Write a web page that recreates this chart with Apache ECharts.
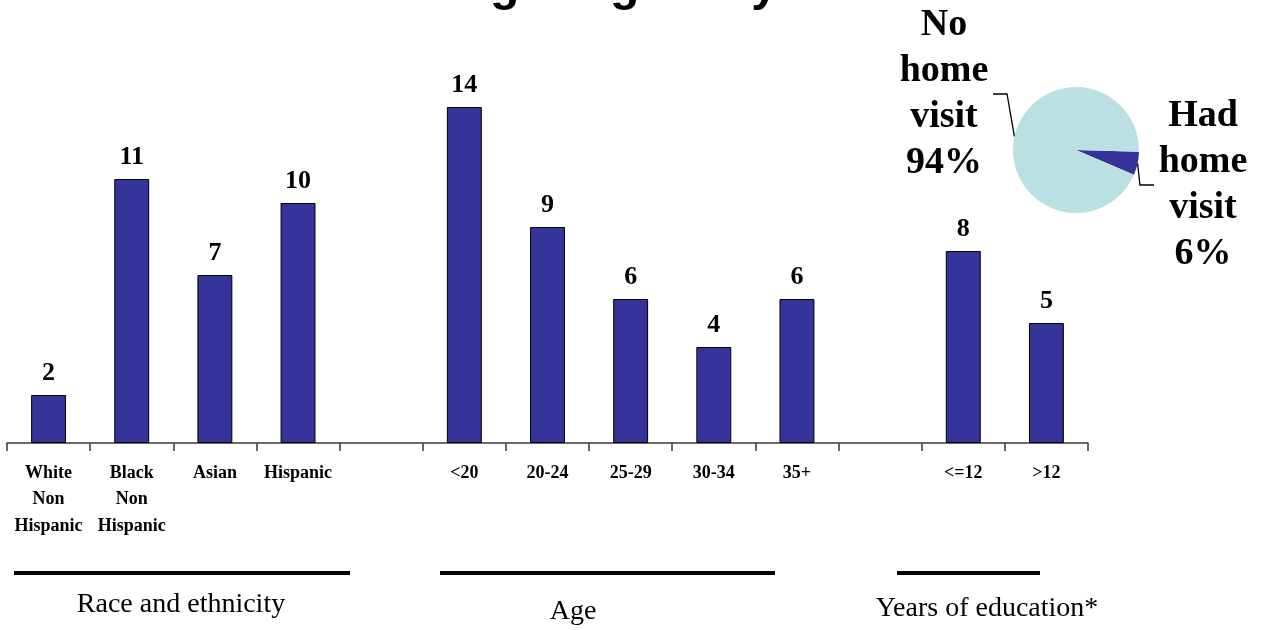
<!DOCTYPE html>
<html>
<head>
<meta charset="utf-8">
<script src="https://cdn.jsdelivr.net/npm/echarts@6/dist/echarts.min.js"></script>
<style>
html,body{margin:0;padding:0;background:#fff;}
#chart{width:1262px;height:630px;}
</style>
</head>
<body>
<div id="chart"></div>
<script>
// ---- data ----
var titleText = 'Home Visits During Pregnancy';
var categories = ['White\nNon\nHispanic', 'Black\nNon\nHispanic', 'Asian', 'Hispanic', '',
                  '<20', '20-24', '25-29', '30-34', '35+', '',
                  '<=12', '>12'];
var values = [2, 11, 7, 10, null, 14, 9, 6, 4, 6, null, 8, 5];
var groupNames = ['Race and ethnicity', 'Age', 'Years of education*'];
var pieNames = ['Had home visit', 'No home visit'];
var pieValues = [6, 94];

// ---- chart ----
var chart = echarts.init(document.getElementById('chart'));
var serif = '"Liberation Serif", "Times New Roman", serif';
var axisColor = '#3a3a3a';

var option = {
  backgroundColor: '#ffffff',
  animation: false,
  grid: { left: 7, right: 174, top: 83, bottom: 187, containLabel: false },
  xAxis: {
    type: 'category',
    data: categories,
    boundaryGap: true,
    axisLine: { lineStyle: { color: axisColor, width: 1.5 } },
    axisTick: { show: true, length: 8, lineStyle: { color: axisColor, width: 1.5 } },
    axisLabel: {
      interval: 0, margin: 17,
      fontFamily: serif, fontWeight: 'bold', fontSize: 18, color: '#000',
      lineHeight: 26.5, align: 'center'
    }
  },
  yAxis: {
    type: 'value', min: 0, max: 15, show: false,
    splitLine: { show: false }
  },
  series: [
    {
      type: 'bar',
      data: values,
      barWidth: '42%',
      itemStyle: { color: '#333399', borderColor: '#000', borderWidth: 1 },
      label: {
        show: true, position: 'top', distance: 9,
        fontFamily: serif, fontWeight: 'bold', fontSize: 26, color: '#000'
      }
    },
    {
      type: 'pie',
      center: [1076, 150],
      radius: 63,
      startAngle: -1.5,
      clockwise: true,
      percentPrecision: 0,
      data: pieNames.map(function (n, i) { return { name: n, value: pieValues[i] }; }),
      color: ['#333399', '#BBE0E3'],
      label: {
        show: true, position: 'outside', overflow: 'none', width: 98,
        fontFamily: serif, fontWeight: 'bold', fontSize: 38, color: '#000',
        lineHeight: 46, align: 'center',
        formatter: function (p) { return p.name.split(' ').join('\n') + '\n' + p.percent + '%'; }
      },
      labelLine: { show: true, length: 12, length2: 14, lineStyle: { color: '#000', width: 1.3 } },
      labelLayout: function (params) {
        if (params.dataIndex === 0) {
          return { x: 1203, y: 185, align: 'center', verticalAlign: 'middle' };
        }
        return { x: 944, y: 94, align: 'center', verticalAlign: 'middle' };
      }
    }
  ],
  graphic: [
    {
      type: 'text', x: 778, y: -13,
      style: { text: titleText, font: 'bold 48px "Liberation Sans", Arial, sans-serif',
               fill: '#000', align: 'right', verticalAlign: 'middle' }
    },
    { type: 'rect', shape: { x: 14, y: 571, width: 336, height: 4 }, style: { fill: '#000' } },
    { type: 'rect', shape: { x: 440, y: 571, width: 335, height: 4 }, style: { fill: '#000' } },
    { type: 'rect', shape: { x: 897, y: 571, width: 143, height: 4 }, style: { fill: '#000' } },
    { type: 'text', x: 181, y: 605,
      style: { text: groupNames[0], font: '28px ' + serif, fill: '#000', align: 'center', verticalAlign: 'middle' } },
    { type: 'text', x: 573, y: 612,
      style: { text: groupNames[1], font: '28px ' + serif, fill: '#000', align: 'center', verticalAlign: 'middle' } },
    { type: 'text', x: 987, y: 609,
      style: { text: groupNames[2], font: '28px ' + serif, fill: '#000', align: 'center', verticalAlign: 'middle' } }
  ]
};
chart.setOption(option);
</script>
</body>
</html>
